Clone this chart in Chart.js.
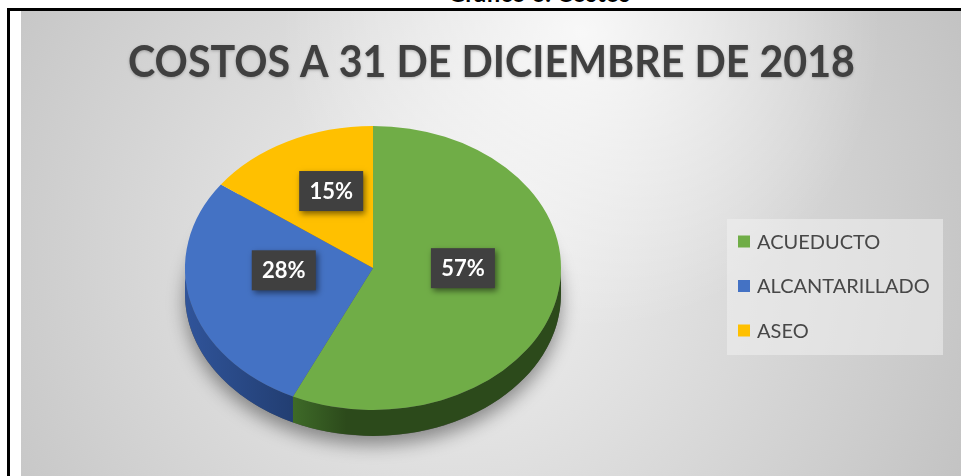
<!DOCTYPE html>
<html lang="es">
<head>
<meta charset="utf-8">
<script src="https://cdn.jsdelivr.net/npm/chart.js@4.4.1/dist/chart.umd.min.js"></script>
<style>
    html, body { margin: 0; padding: 0; background: #fff; width: 961px; height: 476px; overflow: hidden; }
    #leyendaSup { position: absolute; left: 0; width: 1078px; top: -19px; text-align: center;
        font: bold 24px Lato, sans-serif; line-height: 24px; color: #000; }
    #marco { position: absolute; left: 7px; top: 8px; width: 970px; height: 480px;
        border-left: 3px solid #000; border-top: 3px solid #000; }
    #contenedor { position: absolute; left: 21px; top: 11px; width: 940px; height: 465px; }
</style>
</head>
<body>
<div id="leyendaSup">Gráfico 6. Costos</div>
<div id="marco"></div>
<div id="contenedor"><canvas id="graficoCostos"></canvas></div>
<script>
    // Datos del gráfico
    const titulo = 'COSTOS A 31 DE DICIEMBRE DE 2018';
    const categorias = ['ACUEDUCTO', 'ALCANTARILLADO', 'ASEO'];
    const porcentajes = [57, 28, 15];

    // Colores (cara superior y costado)
    const colores = ['#70AD47', '#4472C4', '#FFC000'];
    const coloresCostado = [['#3e6a28', '#2c4a1b'], ['#30549a', '#223e72'], ['#b38600', '#8a6700']];

    const INCLINACION = 0.755; // aplastamiento vertical de la torta
    const PROFUNDIDAD = 26;     // grosor del costado

    // Fondo con degradado y título
    const fondo = {
        id: 'fondo',
        beforeDraw(chart) {
            const ctx = chart.ctx;
            const w = chart.width, h = chart.height;
            ctx.save();
            let g = ctx.createRadialGradient(440, 240, 0, 440, 240, 620);
            g.addColorStop(0, '#f2f2f2');
            g.addColorStop(1, '#bdbdbd');
            ctx.fillStyle = g;
            ctx.fillRect(0, 0, w, h);
            g = ctx.createRadialGradient(560, 20, 0, 560, 20, 300);
            g.addColorStop(0, 'rgba(255,255,255,0.8)');
            g.addColorStop(1, 'rgba(255,255,255,0)');
            ctx.fillStyle = g;
            ctx.fillRect(0, 0, w, h);

            // título comprimido al ancho del original
            ctx.font = 'bold 44px Lato, sans-serif';
            const ancho = ctx.measureText(titulo).width;
            const esc = 727 / ancho;
            ctx.translate(470.5, 66);
            ctx.scale(esc, 1);
            ctx.fillStyle = '#404040';
            ctx.shadowColor = 'rgba(0,0,0,0.25)';
            ctx.shadowBlur = 3;
            ctx.shadowOffsetY = 1;
            ctx.textAlign = 'center';
            ctx.textBaseline = 'alphabetic';
            ctx.fillText(titulo, 0, 0);
            ctx.restore();
        }
    };

    // Torta en 3D: costado, sombra y aplastamiento
    const torta3d = {
        id: 'torta3d',
        beforeDatasetsDraw(chart) {
            const ctx = chart.ctx;
            const arcos = chart.getDatasetMeta(0).data;
            const cx = arcos[0].x, cy = arcos[0].y, r = arcos[0].outerRadius;
            const ry = r * INCLINACION;

            // sombra bajo la torta
            ctx.save();
            ctx.shadowColor = 'rgba(0,0,0,0.4)';
            ctx.shadowBlur = 18;
            ctx.shadowOffsetY = 9;
            ctx.fillStyle = '#555';
            ctx.beginPath();
            ctx.ellipse(cx, cy + PROFUNDIDAD, r, ry, 0, 0, 2 * Math.PI);
            ctx.fill();
            ctx.restore();

            // costados visibles (mitad delantera)
            arcos.forEach((arco, i) => {
                const a0 = Math.max(arco.startAngle, 0);
                const a1 = Math.min(arco.endAngle, Math.PI);
                if (a1 <= a0) return;
                const x0 = cx + r * Math.cos(a1), x1 = cx + r * Math.cos(a0);
                const g = ctx.createLinearGradient(Math.min(x0, x1), 0, Math.max(x0, x1), 0);
                if (i === 0) {
                    g.addColorStop(0, coloresCostado[i][0]);
                    g.addColorStop(0.2, coloresCostado[i][1]);
                    g.addColorStop(1, coloresCostado[i][1]);
                } else {
                    g.addColorStop(0, coloresCostado[i][0]);
                    g.addColorStop(1, coloresCostado[i][1]);
                }
                ctx.beginPath();
                ctx.ellipse(cx, cy, r, ry, 0, a0, a1);
                ctx.ellipse(cx, cy + PROFUNDIDAD, r, ry, 0, a1, a0, true);
                ctx.closePath();
                ctx.fillStyle = g;
                ctx.fill();
            });

            ctx.save();
            ctx.translate(cx, cy);
            ctx.scale(1, INCLINACION);
            ctx.translate(-cx, -cy);
        },
        afterDatasetsDraw(chart) {
            const ctx = chart.ctx;
            ctx.restore();

            // etiquetas de porcentaje
            const arcos = chart.getDatasetMeta(0).data;
            const valores = chart.data.datasets[0].data;
            arcos.forEach((arco, i) => {
                const medio = (arco.startAngle + arco.endAngle) / 2;
                const x = arco.x + arco.outerRadius * 0.49 * Math.cos(medio);
                const y = arco.y + arco.outerRadius * INCLINACION * 0.49 * Math.sin(medio) - 15;
                ctx.save();
                ctx.shadowColor = 'rgba(0,0,0,0.5)';
                ctx.shadowBlur = 6;
                ctx.shadowOffsetX = 2;
                ctx.shadowOffsetY = 3;
                ctx.fillStyle = '#404040';
                ctx.fillRect(x - 32, y - 20, 64, 40);
                ctx.restore();
                ctx.save();
                ctx.font = 'bold 22px Lato, sans-serif';
                ctx.fillStyle = '#ffffff';
                ctx.textAlign = 'center';
                ctx.textBaseline = 'middle';
                ctx.fillText(valores[i] + '%', x, y + 1);
                ctx.restore();
            });
        }
    };

    // Leyenda a la derecha
    const leyenda = {
        id: 'leyendaDerecha',
        afterDraw(chart) {
            const ctx = chart.ctx;
            ctx.save();
            ctx.fillStyle = 'rgba(240,240,240,0.55)';
            ctx.fillRect(706, 208, 216, 136);
            ctx.font = '20px Lato, sans-serif';
            ctx.textAlign = 'left';
            ctx.textBaseline = 'middle';
            chart.data.labels.forEach((etiqueta, i) => {
                const y = 230.5 + i * 44.5;
                ctx.fillStyle = colores[i];
                ctx.fillRect(717, y - 6, 12, 12);
                ctx.fillStyle = '#474747';
                ctx.fillText(etiqueta, 736, y + 1);
            });
            ctx.restore();
        }
    };

    const ctx = document.getElementById('graficoCostos').getContext('2d');
    new Chart(ctx, {
        type: 'pie',
        data: {
            labels: categorias,
            datasets: [{
                data: porcentajes,
                backgroundColor: colores,
                borderWidth: 0
            }]
        },
        options: {
            responsive: true,
            maintainAspectRatio: false,
            animation: false,
            events: [],
            layout: { padding: { left: 164, right: 400, top: 69, bottom: 20 } },
            plugins: {
                legend: { display: false },
                title: { display: false },
                tooltip: { enabled: false }
            }
        },
        plugins: [fondo, torta3d, leyenda]
    });
</script>
</body>
</html>
